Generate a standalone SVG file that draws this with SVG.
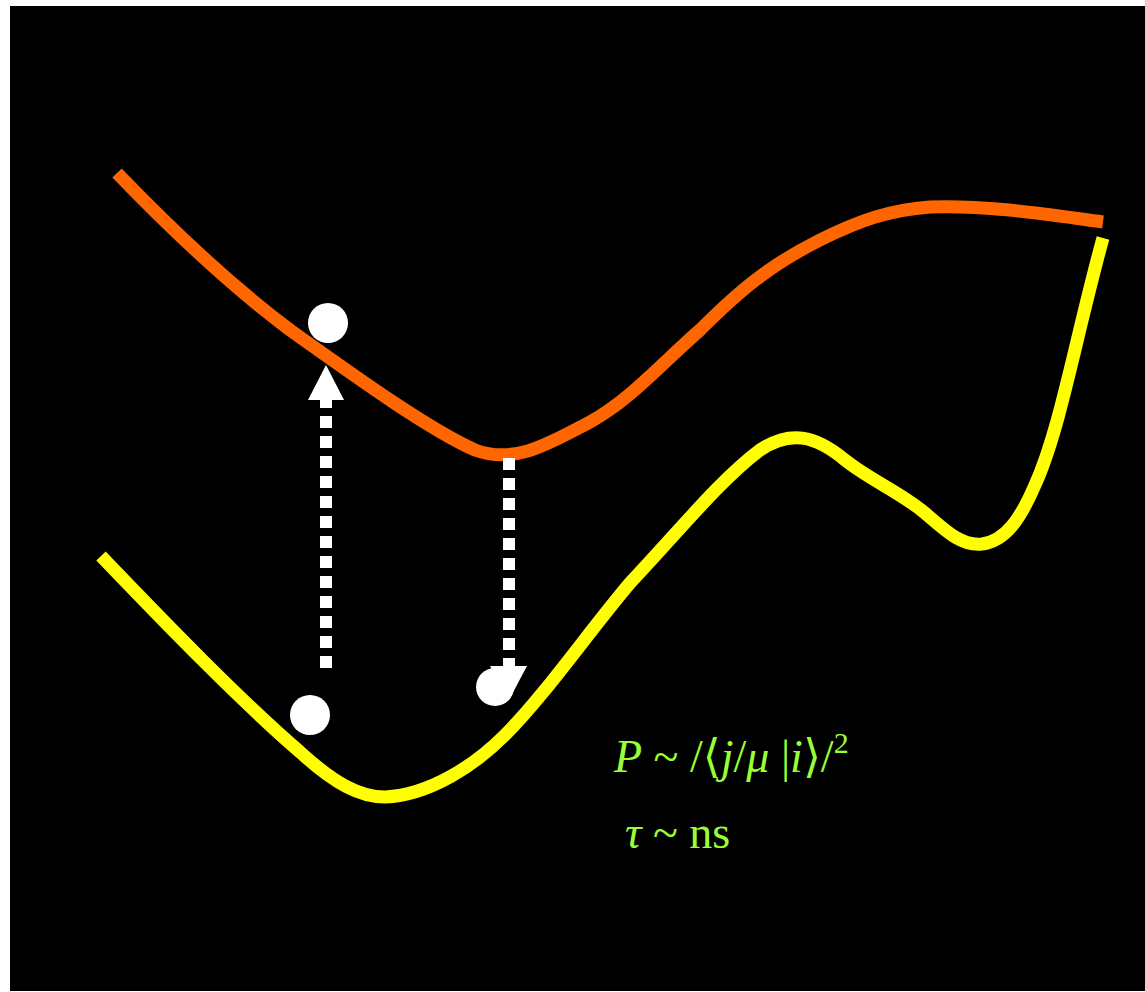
<svg xmlns="http://www.w3.org/2000/svg" width="1145" height="992" viewBox="0 0 1145 992">
<style>
.curve{fill:none;stroke-width:13;stroke-linejoin:round}
.dash{stroke:#fff;stroke-width:12;stroke-dasharray:12 8;fill:none}
.dot{fill:#fff}
.eq{font-family:"Liberation Serif","DejaVu Serif",serif;font-size:46px;fill:#99FF33}
.it{font-style:italic}
</style>
<rect x="0" y="0" width="1145" height="992" fill="#fff"/>
<rect x="10" y="6" width="1135" height="985" fill="#000"/>
<g id="upper-curve">
<path class="curve" stroke="#FF6600" d="M117,173 C170,228 230,285 290,330 C360,380 430,430 475,450 C515,465 550,443 590,422 C630,400 660,365 700,330 C740,290 770,265 820,240 C860,220 890,210 930,207 C990,205 1050,215 1103,222"/>
</g>
<g id="lower-curve">
<path class="curve" stroke="#FFFF00" d="M101,556 C170,628 240,700 300,752 C335,784 360,797 385,797 C430,795 475,765 505,735 C545,695 590,630 630,583 C680,530 720,480 760,450 C790,430 815,435 845,460 C870,480 900,492 925,513 C948,533 962,546 982,544 C1005,541 1020,520 1035,485 C1060,430 1075,340 1103,238"/>
</g>
<g id="connectors">
<path class="dash" d="M326,668 V400"/>
<polygon fill="#fff" points="326,365 344,400 308,400"/>
<path class="dash" d="M509,458 V666"/>
<polygon fill="#fff" points="490,666 527,666 509,700"/>
</g>
<g id="state-top"><circle class="dot" cx="328" cy="323" r="20"/></g>
<g id="state-bottom-left"><circle class="dot" cx="310" cy="715" r="20"/></g>
<g id="state-bottom-mid"><circle class="dot" cx="495" cy="687" r="19"/></g>
<g id="label-P">
<text class="eq" x="614" y="772"><tspan class="it">P</tspan> ~ /⟨<tspan class="it">j</tspan>/<tspan class="it">μ</tspan> |<tspan class="it">i</tspan>⟩/<tspan font-size="30" dy="-19">2</tspan></text>
</g>
<g id="label-tau">
<text class="eq" x="625" y="848"><tspan class="it">τ</tspan> ~ ns</text>
</g>
</svg>
